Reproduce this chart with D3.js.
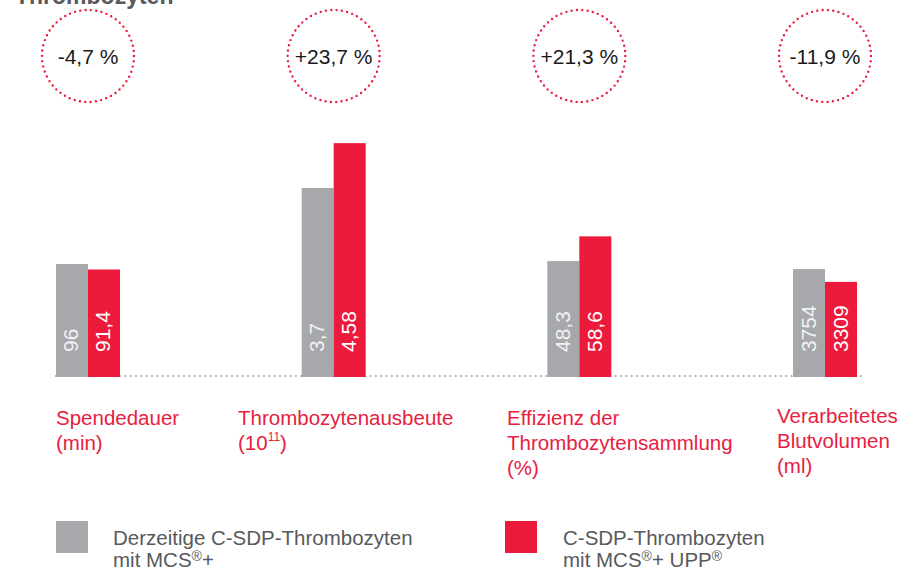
<!DOCTYPE html>
<html>
<head>
<meta charset="utf-8">
<script src="https://cdn.jsdelivr.net/npm/d3@7"></script>
<style>
  html, body { margin: 0; padding: 0; background: #fff; }
  svg { display: block; font-family: "Liberation Sans", Arial, Helvetica, sans-serif; }
</style>
</head>
<body>
<svg id="chart" width="916" height="571"></svg>
<script>
// ---- data ----
const title = "Thrombozyten";
const categories = ["Spendedauer", "Thrombozytenausbeute", "Effizienz", "Blutvolumen"];
const categoryLines = [
  ["Spendedauer", "(min)"],
  ["Thrombozytenausbeute", "(10|11|)"],
  ["Effizienz der", "Thrombozytensammlung", "(%)"],
  ["Verarbeitetes", "Blutvolumen", "(ml)"]
];
const seriesKeys = ["current", "upp"];
const currentValues = [96, 3.7, 48.3, 3754];
const uppValues = [91.4, 4.58, 58.6, 3309];
const changeLabels = ["-4,7 %", "+23,7 %", "+21,3 %", "-11,9 %"];
const groupScaleMax = [204, 4.7, 100, 8350]; // each metric has its own unit / scale
const legendLines = [
  ["Derzeitige C-SDP-Thrombozyten", "mit MCS®+"],
  ["C-SDP-Thrombozyten", "mit MCS®+ UPP®"]
];

// ---- styles / layout ----
const GREY = "#a7a8ab", RED = "#ec1a3b", LABEL_RED = "#e8203f", TEXT_GREY = "#58595b";
const svg = d3.select("#chart");
const baseY = 377, topY = 137;

const x = d3.scaleBand().domain(categories).range([56, 857]).paddingInner(1 - 64 / 245.67).paddingOuter(0);
const xs = d3.scaleBand().domain(seriesKeys).range([0, x.bandwidth()]).padding(0);
const color = d3.scaleOrdinal().domain(seriesKeys).range([GREY, RED]);
const yScales = groupScaleMax.map(m => d3.scaleLinear().domain([0, m]).range([baseY, topY]));

const fmt = v => String(v).replace(".", ",");

// title (cut off at top in original)
svg.append("text").attr("x", 15).attr("y", 4)
  .attr("font-size", 23).attr("font-weight", "bold").attr("fill", TEXT_GREY)
  .text(title);

// dotted baseline
svg.append("line")
  .attr("x1", x.range()[0]).attr("x2", x.range()[1] + 5)
  .attr("y1", baseY - 1).attr("y2", baseY - 1)
  .attr("stroke", GREY).attr("stroke-width", 2.2)
  .attr("stroke-linecap", "round").attr("stroke-dasharray", "0 5.33");

// groups
const rows = categories.map((c, i) => ({
  cat: c, i,
  vals: [{ key: "current", v: currentValues[i] }, { key: "upp", v: uppValues[i] }]
}));

const g = svg.selectAll("g.grp").data(rows).join("g")
  .attr("class", "grp")
  .attr("transform", d => `translate(${x(d.cat)},0)`);

g.selectAll("rect").data(d => d.vals.map(v => ({ ...v, i: d.i }))).join("rect")
  .attr("x", d => xs(d.key))
  .attr("width", xs.bandwidth())
  .attr("y", d => yScales[d.i](d.v))
  .attr("height", d => baseY - yScales[d.i](d.v))
  .attr("fill", d => color(d.key));

g.selectAll("text.val").data(d => d.vals).join("text")
  .attr("class", "val")
  .attr("transform", d => `translate(${xs(d.key) + xs.bandwidth() / 2 + 6.5},${baseY - 25}) rotate(-90)`)
  .attr("font-size", 21)
  .attr("fill", d => d.key === "current" ? "#f2f2f2" : "#ffffff")
  .text(d => fmt(d.v));

// dotted circles with change
const cx = c => x(c) + x.bandwidth() / 2;
svg.selectAll("circle.chg").data(categories).join("circle")
  .attr("class", "chg")
  .attr("cx", d => cx(d)).attr("cy", 56).attr("r", 46)
  .attr("fill", "none").attr("stroke", RED).attr("stroke-width", 2.4)
  .attr("stroke-linecap", "round").attr("stroke-dasharray", "0 5.35");

svg.selectAll("text.chg").data(categories).join("text")
  .attr("class", "chg")
  .attr("x", d => cx(d)).attr("y", 64)
  .attr("text-anchor", "middle").attr("font-size", 21).attr("fill", "#1a1a1a")
  .text((d, i) => changeLabels[i]);

// category labels
const labelX = [56, 238, 507, 777];
const labelY0 = [425, 425, 425, 423];
categoryLines.forEach((lines, i) => {
  const t = svg.append("text").attr("font-size", 20.5).attr("fill", LABEL_RED);
  lines.forEach((line, j) => {
    const y = labelY0[i] + j * 25;
    if (line.includes("|")) {
      const parts = line.split("|");
      t.append("tspan").attr("x", labelX[i]).attr("y", y).text(parts[0]);
      t.append("tspan").attr("font-size", 12).attr("dy", -9).text(parts[1]);
      t.append("tspan").attr("dy", 9).text(parts[2]);
    } else {
      t.append("tspan").attr("x", labelX[i]).attr("y", y).text(line);
    }
  });
});

// legend
const legX = [56, 505], legTextX = [113, 563];
legendLines.forEach((lines, i) => {
  svg.append("rect").attr("x", legX[i]).attr("y", 521).attr("width", 32).attr("height", 32)
    .attr("fill", color(seriesKeys[i]));
  const t = svg.append("text").attr("font-size", 20.5).attr("fill", TEXT_GREY);
  lines.forEach((line, j) => {
    const y = 545 + j * 22;
    const parts = line.split("®");
    parts.forEach((p, k) => {
      const ts = t.append("tspan").text(p);
      if (k === 0) ts.attr("x", legTextX[i]).attr("y", y);
      else ts.attr("y", y);
      if (k < parts.length - 1) {
        t.append("tspan").attr("font-size", 14).attr("y", y - 6).text("®");
      }
    });
  });
});
</script>
</body>
</html>
